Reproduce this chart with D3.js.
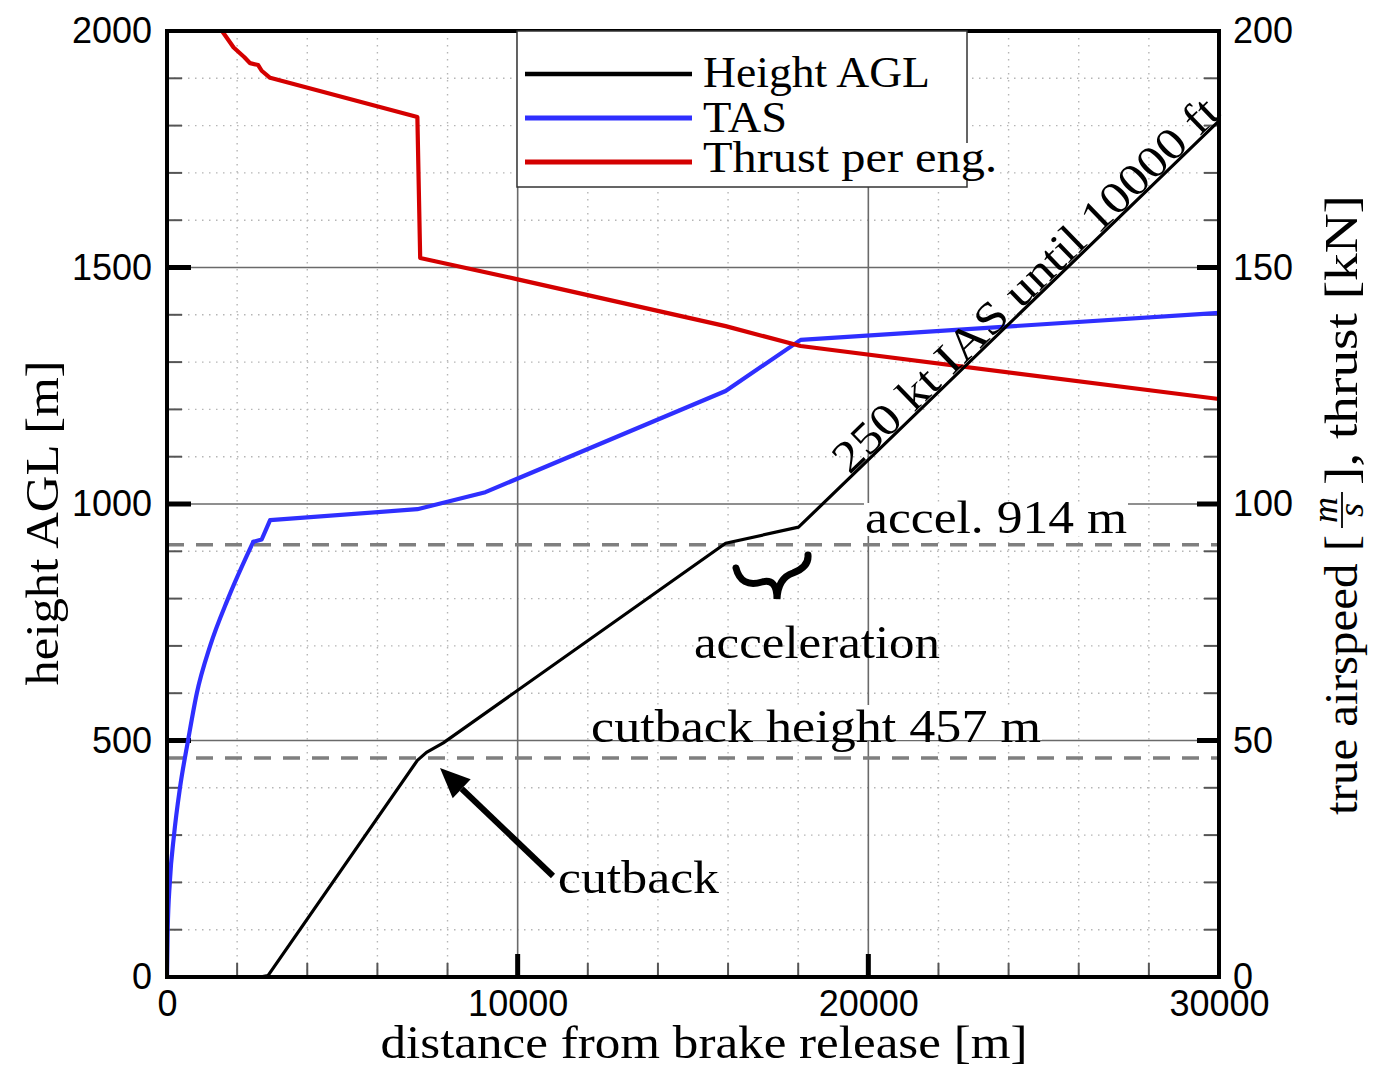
<!DOCTYPE html>
<html>
<head>
<meta charset="utf-8">
<script src="https://cdn.jsdelivr.net/npm/d3@7"></script>
<style>
  body { margin: 0; background: #fff; }
  svg { display: block; }
</style>
</head>
<body>
<div id="chart"></div>
<script>
// chart data
const heightDist = [2650, 2880, 7140, 7400, 7880, 15930, 18010, 30000];
const heightAgl  = [0, 3, 458, 475, 495, 917, 951, 1810];

const tasDist = [0, 20, 80, 200, 370, 600, 850, 1230, 1740, 2460, 2700, 2940, 7140, 9080, 15930, 18070, 30000];
const tasVal  = [0, 10, 20, 30, 40, 50, 60, 70, 80, 92, 92.5, 96.6, 98.9, 102.5, 123.9, 134.7, 140.4];
const tasRollEnd = 9; // take-off roll part is a smooth curve, the rest straight pieces

const thrustDist = [1570, 1900, 2200, 2370, 2600, 2700, 2940, 7140, 7220, 10000, 15930, 18070, 30000];
const thrustVal  = [200, 196.5, 194.5, 193.2, 192.8, 191.6, 190.1, 181.8, 152.0, 147.5, 137.6, 133.4, 122.2];

const xTicks = [0, 10000, 20000, 30000];
const yLeftTicks = [0, 500, 1000, 1500, 2000];
const yRightTicks = [0, 50, 100, 150, 200];

const legendNames = ["Height AGL", "TAS", "Thrust per eng."];
const legendColors = ["#000000", "#2f2fff", "#d40000"];

const accelHeight = 914;
const cutbackHeight = 463;

const W = 1373, H = 1071;
const serif = "'Liberation Serif', 'Times New Roman', serif";
const sans = "'Liberation Sans', Arial, sans-serif";

const svg = d3.select("#chart").append("svg")
    .attr("width", W)
    .attr("height", H);

const x = d3.scaleLinear().domain([0, 30000]).range([167, 1219]);
const yL = d3.scaleLinear().domain([0, 2000]).range([977, 31]);
const yR = d3.scaleLinear().domain([0, 200]).range([977, 31]);

const [x0, x1] = x.range();
const [yb, yt] = yL.range();

svg.append("defs").append("clipPath").attr("id", "plotclip")
    .append("rect").attr("x", x0).attr("y", yt).attr("width", x1 - x0).attr("height", yb - yt);

// minor dotted grid
const minorX = d3.range(2000, 30000, 2000).filter(d => d % 10000 !== 0);
const minorY = d3.range(100, 2000, 100).filter(d => d % 500 !== 0);
const grid = svg.append("g");
grid.selectAll("line.mx").data(minorX).join("line")
    .attr("x1", d => x(d)).attr("x2", d => x(d))
    .attr("y1", yt).attr("y2", yb)
    .attr("stroke", "#b5b5b5").attr("stroke-width", 1.4).attr("stroke-dasharray", "1.5,5.5");
grid.selectAll("line.my").data(minorY).join("line")
    .attr("x1", x0).attr("x2", x1)
    .attr("y1", d => yL(d)).attr("y2", d => yL(d))
    .attr("stroke", "#b5b5b5").attr("stroke-width", 1.4).attr("stroke-dasharray", "1.5,5.5");

// major solid grid
grid.selectAll("line.Mx").data([10000, 20000]).join("line")
    .attr("x1", d => x(d)).attr("x2", d => x(d))
    .attr("y1", yt).attr("y2", yb)
    .attr("stroke", "#6a6a6a").attr("stroke-width", 1.6);
grid.selectAll("line.My").data([500, 1000, 1500]).join("line")
    .attr("x1", x0).attr("x2", x1)
    .attr("y1", d => yL(d)).attr("y2", d => yL(d))
    .attr("stroke", "#6a6a6a").attr("stroke-width", 1.6);

// ticks (inward)
const ticks = svg.append("g");
ticks.selectAll("line.lmin").data(minorY).join("line")
    .attr("x1", x0).attr("x2", x0 + 15).attr("y1", d => yL(d)).attr("y2", d => yL(d))
    .attr("stroke", "#555").attr("stroke-width", 2);
ticks.selectAll("line.rmin").data(minorY).join("line")
    .attr("x1", x1 - 15).attr("x2", x1).attr("y1", d => yL(d)).attr("y2", d => yL(d))
    .attr("stroke", "#555").attr("stroke-width", 2);
ticks.selectAll("line.bmin").data(minorX).join("line")
    .attr("x1", d => x(d)).attr("x2", d => x(d)).attr("y1", yb - 14).attr("y2", yb)
    .attr("stroke", "#555").attr("stroke-width", 2);
ticks.selectAll("line.lmaj").data([500, 1000, 1500]).join("line")
    .attr("x1", x0).attr("x2", x0 + 24).attr("y1", d => yL(d)).attr("y2", d => yL(d))
    .attr("stroke", "#000").attr("stroke-width", 5);
ticks.selectAll("line.rmaj").data([500, 1000, 1500]).join("line")
    .attr("x1", x1 - 22).attr("x2", x1).attr("y1", d => yL(d)).attr("y2", d => yL(d))
    .attr("stroke", "#000").attr("stroke-width", 5);
ticks.selectAll("line.bmaj").data([10000, 20000]).join("line")
    .attr("x1", d => x(d)).attr("x2", d => x(d)).attr("y1", yb - 23).attr("y2", yb)
    .attr("stroke", "#000").attr("stroke-width", 5);

// dashed reference heights
svg.selectAll("line.ref").data([accelHeight, cutbackHeight]).join("line")
    .attr("x1", x0).attr("x2", x1)
    .attr("y1", d => yL(d)).attr("y2", d => yL(d))
    .attr("stroke", "#7f7f7f").attr("stroke-width", 3.4).attr("stroke-dasharray", "17,12");

// white-backed annotation texts
function label(txt, xa, base, len, size) {
    svg.append("text")
        .attr("x", xa).attr("y", base)
        .attr("font-family", serif).attr("font-size", size || 46)
        .attr("textLength", len).attr("lengthAdjust", "spacingAndGlyphs")
        .text(txt);
}
function bg(parent, xa, ya, w, h) {
    parent.append("rect").attr("x", xa).attr("y", ya).attr("width", w).attr("height", h).attr("fill", "#fff");
}

bg(svg, 864, 503, 264, 33);
bg(svg, 590, 705, 452, 35);

// curves
const plot = svg.append("g").attr("clip-path", "url(#plotclip)");
const line = d3.line();
const tasPts = tasDist.map((d, i) => [x(d), yR(tasVal[i])]);

plot.append("path")
    .attr("d", d3.line().curve(d3.curveMonotoneX)(tasPts.slice(0, tasRollEnd + 1)))
    .attr("fill", "none").attr("stroke", legendColors[1]).attr("stroke-width", 4.2)
    .attr("stroke-linecap", "round");
plot.append("path")
    .attr("d", line(tasPts.slice(tasRollEnd)))
    .attr("fill", "none").attr("stroke", legendColors[1]).attr("stroke-width", 4.2)
    .attr("stroke-linejoin", "round").attr("stroke-linecap", "round");
plot.append("path")
    .attr("d", line(thrustDist.map((d, i) => [x(d), yR(thrustVal[i])])))
    .attr("fill", "none").attr("stroke", legendColors[2]).attr("stroke-width", 4.2)
    .attr("stroke-linejoin", "round");
plot.append("path")
    .attr("d", line(heightDist.map((d, i) => [x(d), yL(heightAgl[i])])))
    .attr("fill", "none").attr("stroke", legendColors[0]).attr("stroke-width", 3.2)
    .attr("stroke-linejoin", "round");

// frame
svg.append("rect")
    .attr("x", x0).attr("y", yt).attr("width", x1 - x0).attr("height", yb - yt)
    .attr("fill", "none").attr("stroke", "#000").attr("stroke-width", 4);

// legend
const leg = svg.append("g");
leg.append("rect").attr("x", 517).attr("y", yt).attr("width", 450).attr("height", 156)
    .attr("fill", "#fff").attr("stroke", "#333").attr("stroke-width", 1.5);
bg(leg, 700, 143, 300, 35);
const legY = [74, 118, 162];
const legBase = [87, 132, 172];
const legLen = [227, 84, 294];
legendNames.forEach((name, i) => {
    leg.append("line").attr("x1", 525).attr("x2", 692).attr("y1", legY[i]).attr("y2", legY[i])
        .attr("stroke", legendColors[i]).attr("stroke-width", i === 0 ? 4.5 : 5);
    leg.append("text").attr("x", 703).attr("y", legBase[i])
        .attr("font-family", serif).attr("font-size", 45)
        .attr("textLength", legLen[i]).attr("lengthAdjust", "spacingAndGlyphs")
        .text(name);
});

// annotations
label("accel.  914 m", 865, 533, 262);
label("acceleration", 694, 658, 246);
label("cutback height 457 m", 591, 742, 450);
label("cutback", 558, 893, 161);

// brace under acceleration segment
svg.append("path")
    .attr("d", "M736,568 Q741,588 762,582 Q777,578 777,599 Q778,578 793,573 Q809,567 808,555")
    .attr("fill", "none").attr("stroke", "#000").attr("stroke-width", 7).attr("stroke-linecap", "round");

// arrow to cutback point
const tail = [553, 876], tip = [440, 768];
const ang = Math.atan2(tip[1] - tail[1], tip[0] - tail[0]);
const hl = 30, hw = 13;
const bx = tip[0] - hl * Math.cos(ang), by = tip[1] - hl * Math.sin(ang);
svg.append("line").attr("x1", tail[0]).attr("y1", tail[1]).attr("x2", bx).attr("y2", by)
    .attr("stroke", "#000").attr("stroke-width", 6);
svg.append("path")
    .attr("d", `M${tip[0]},${tip[1]} L${bx + hw * Math.sin(ang)},${by - hw * Math.cos(ang)} L${bx - hw * Math.sin(ang)},${by + hw * Math.cos(ang)} Z`)
    .attr("fill", "#000");

// text along climb segment
const pa = [x(heightDist[6]), yL(heightAgl[6])], pb = [x(heightDist[7]), yL(heightAgl[7])];
const slopeAng = Math.atan2(pb[1] - pa[1], pb[0] - pa[0]);
const startX = x(19500);
const startY = pa[1] + (startX - pa[0]) * Math.tan(slopeAng);
svg.append("text")
    .attr("transform", `translate(${startX + 2 * Math.sin(slopeAng)},${startY - 2 * Math.cos(slopeAng)}) rotate(${slopeAng * 180 / Math.PI})`)
    .attr("font-family", serif).attr("font-size", 45)
    .attr("textLength", 518).attr("lengthAdjust", "spacingAndGlyphs")
    .text("250 kt IAS until 10000 ft");

// axes tick labels
const fmt = d3.format("d");
const axL = svg.append("g").attr("transform", `translate(${x0},0)`)
    .call(d3.axisLeft(yL).tickValues(yLeftTicks).tickSize(0).tickPadding(15).tickFormat(fmt));
const axR = svg.append("g").attr("transform", `translate(${x1},0)`)
    .call(d3.axisRight(yR).tickValues(yRightTicks).tickSize(0).tickPadding(14).tickFormat(fmt));
const axB = svg.append("g").attr("transform", `translate(0,${yb})`)
    .call(d3.axisBottom(x).tickValues(xTicks).tickSize(0).tickPadding(13).tickFormat(fmt));
[axL, axR, axB].forEach(a => {
    a.select(".domain").remove();
    a.selectAll("text").attr("font-family", sans).attr("font-size", 36).attr("fill", "#000");
});

// axis titles
svg.append("text")
    .attr("x", 704).attr("y", 1058).attr("text-anchor", "middle")
    .attr("font-family", serif).attr("font-size", 46)
    .attr("textLength", 647).attr("lengthAdjust", "spacingAndGlyphs")
    .text("distance from brake release [m]");

svg.append("text")
    .attr("transform", "translate(58,523) rotate(-90)")
    .attr("text-anchor", "middle")
    .attr("font-family", serif).attr("font-size", 46)
    .attr("textLength", 325).attr("lengthAdjust", "spacingAndGlyphs")
    .text("height AGL [m]");

const rt = svg.append("g").attr("transform", "translate(1357,815) rotate(-90)");
rt.append("text").attr("x", 0).attr("y", 0)
    .attr("font-family", serif).attr("font-size", 46)
    .attr("textLength", 280).attr("lengthAdjust", "spacingAndGlyphs")
    .text("true airspeed [");
rt.append("text").attr("x", 305).attr("y", -20).attr("text-anchor", "middle")
    .attr("font-family", serif).attr("font-style", "italic").attr("font-size", 36)
    .text("m");
rt.append("line").attr("x1", 287).attr("x2", 323).attr("y1", -15).attr("y2", -15)
    .attr("stroke", "#000").attr("stroke-width", 1.8);
rt.append("text").attr("x", 305).attr("y", 6).attr("text-anchor", "middle")
    .attr("font-family", serif).attr("font-style", "italic").attr("font-size", 36)
    .text("s");
rt.append("text").attr("x", 330).attr("y", 0)
    .attr("font-family", serif).attr("font-size", 46)
    .attr("textLength", 290).attr("lengthAdjust", "spacingAndGlyphs")
    .text("], thrust [kN]");
</script>
</body>
</html>
